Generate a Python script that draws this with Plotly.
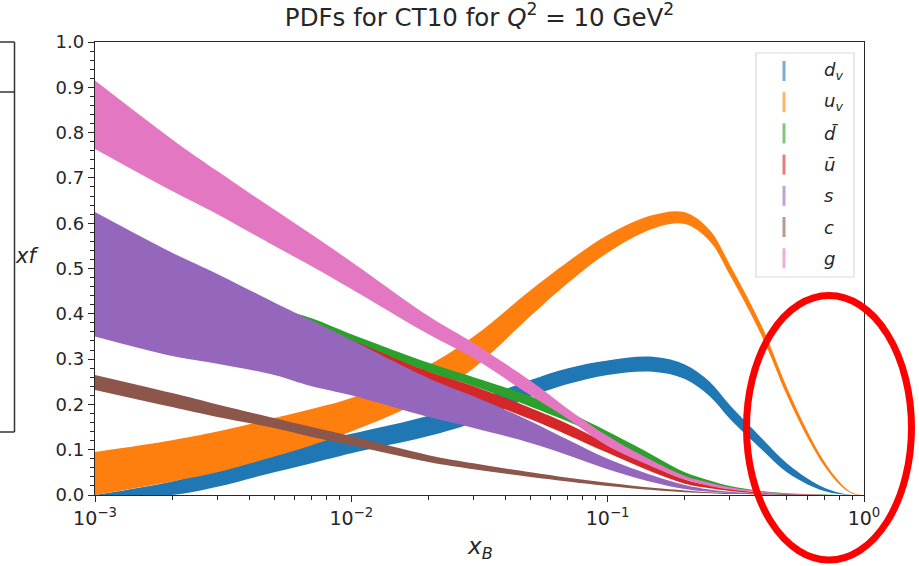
import plotly.graph_objects as go

# Momentum fraction grid (log-spaced sampling points)
x_b = [0.001, 0.002, 0.003, 0.005, 0.007, 0.01, 0.02, 0.03, 0.05, 0.07, 0.1,
       0.15, 0.2, 0.25, 0.3, 0.4, 0.5, 0.6, 0.7, 0.8, 0.9, 1.0]

# Uncertainty bands (lower / upper edge) of x*f for each parton
dv_lo = [0.0, 0.0, 0.018, 0.05, 0.07, 0.092, 0.13, 0.16, 0.217, 0.245, 0.265,
         0.272, 0.256, 0.218, 0.168, 0.1, 0.05, 0.024, 0.009, 0.002, 0.0, 0.0]
dv_hi = [0.0, 0.03, 0.055, 0.09, 0.115, 0.135, 0.175, 0.207, 0.254, 0.28, 0.297,
         0.305, 0.288, 0.25, 0.198, 0.125, 0.07, 0.037, 0.016, 0.005, 0.0, 0.0]

uv_lo = [0.0, 0.03, 0.05, 0.085, 0.11, 0.14, 0.215, 0.28, 0.395, 0.468, 0.535,
         0.588, 0.598, 0.56, 0.485, 0.35, 0.22, 0.128, 0.064, 0.024, 0.003, 0.0]
uv_hi = [0.095, 0.121, 0.14, 0.17, 0.19, 0.214, 0.287, 0.35, 0.452, 0.515, 0.574,
         0.618, 0.624, 0.585, 0.508, 0.372, 0.238, 0.142, 0.074, 0.03, 0.005, 0.0]

dbar_lo = [0.50, 0.44, 0.41, 0.38, 0.355, 0.335, 0.272, 0.24, 0.195, 0.162, 0.122,
           0.073, 0.04, 0.024, 0.015, 0.006, 0.002, 0.001, 0.0, 0.0, 0.0, 0.0]
dbar_hi = [0.56, 0.49, 0.455, 0.415, 0.39, 0.355, 0.292, 0.26, 0.218, 0.183, 0.14,
           0.088, 0.05, 0.032, 0.02, 0.009, 0.004, 0.002, 0.001, 0.0, 0.0, 0.0]

ubar_lo = [0.47, 0.42, 0.39, 0.36, 0.335, 0.315, 0.25, 0.215, 0.167, 0.132, 0.093,
           0.05, 0.025, 0.015, 0.009, 0.003, 0.001, 0.0, 0.0, 0.0, 0.0, 0.0]
ubar_hi = [0.53, 0.47, 0.44, 0.40, 0.375, 0.342, 0.272, 0.24, 0.192, 0.157, 0.113,
           0.064, 0.034, 0.021, 0.013, 0.005, 0.002, 0.001, 0.0, 0.0, 0.0, 0.0]

s_lo = [0.35, 0.307, 0.29, 0.265, 0.24, 0.22, 0.172, 0.148, 0.115, 0.088, 0.057,
        0.028, 0.013, 0.007, 0.004, 0.001, 0.0, 0.0, 0.0, 0.0, 0.0, 0.0]
s_hi = [0.625, 0.535, 0.488, 0.425, 0.385, 0.342, 0.258, 0.218, 0.163, 0.122, 0.08,
        0.043, 0.022, 0.012, 0.007, 0.003, 0.001, 0.0, 0.0, 0.0, 0.0, 0.0]

c_lo = [0.232, 0.194, 0.172, 0.148, 0.128, 0.11, 0.073, 0.057, 0.04, 0.03, 0.02,
        0.011, 0.006, 0.004, 0.002, 0.001, 0.0, 0.0, 0.0, 0.0, 0.0, 0.0]
c_hi = [0.265, 0.225, 0.2, 0.17, 0.15, 0.13, 0.088, 0.07, 0.05, 0.038, 0.027,
        0.016, 0.01, 0.006, 0.004, 0.002, 0.001, 0.0, 0.0, 0.0, 0.0, 0.0]

g_lo = [0.764, 0.671, 0.62, 0.55, 0.505, 0.455, 0.355, 0.302, 0.22, 0.168, 0.108,
        0.062, 0.034, 0.02, 0.012, 0.005, 0.002, 0.0, 0.0, 0.0, 0.0, 0.0]
g_hi = [0.915, 0.785, 0.715, 0.63, 0.575, 0.515, 0.395, 0.335, 0.252, 0.19, 0.13,
        0.075, 0.042, 0.027, 0.017, 0.008, 0.003, 0.001, 0.0, 0.0, 0.0, 0.0]

labels = ["<i>d</i><sub><i>v</i></sub>", "<i>u</i><sub><i>v</i></sub>",
          "<i>d\u0304</i>", "<i>u\u0304</i>", "<i>s</i>", "<i>c</i>", "<i>g</i>"]
colors = ["#1f77b4", "#ff7f0e", "#2ca02c", "#d62728", "#9467bd", "#8c564b", "#e377c2"]
bands = [(dv_lo, dv_hi), (uv_lo, uv_hi), (dbar_lo, dbar_hi), (ubar_lo, ubar_hi),
         (s_lo, s_hi), (c_lo, c_hi), (g_lo, g_hi)]

xdec_vals = [1e-3, 1e-2, 1e-1, 1.0]
xdec_text = ["10<sup>\u22123</sup>", "10<sup>\u22122</sup>", "10<sup>\u22121</sup>", "10<sup>0</sup>"]
x_minor = [m * 10.0 ** e for e in (-3, -2, -1) for m in range(2, 10)]

FONT = "DejaVu Sans"
INK = "#262626"

fig = go.Figure()
for (lo, hi), col in zip(bands, colors):
    fig.add_trace(go.Scatter(x=x_b, y=lo, mode="lines", line=dict(width=0, shape="spline", smoothing=1.0),
                             showlegend=False, hoverinfo="skip"))
    fig.add_trace(go.Scatter(x=x_b, y=hi, mode="lines", line=dict(width=0, shape="spline", smoothing=1.0),
                             fill="tonexty", fillcolor=col, showlegend=False, hoverinfo="skip"))

# plot-area geometry in pixels
W, H = 919, 566
L, R, T, B = 95, 864, 42, 495


def px(xp):
    return (xp - L) / (R - L)


def py(yp):
    return (B - yp) / (B - T)


shapes = []
annotations = []

# legend frame
shapes.append(dict(type="rect", xref="paper", yref="paper",
                   x0=px(756), x1=px(854), y0=py(277), y1=py(53),
                   line=dict(color="#d9d9d9", width=1.2), fillcolor="rgba(255,255,255,0.8)", layer="above"))
row0, step = 71, 31.2
for i, (lab, col) in enumerate(zip(labels, colors)):
    yc = row0 + i * step
    shapes.append(dict(type="line", xref="paper", yref="paper",
                       x0=px(784), x1=px(784), y0=py(yc - 10), y1=py(yc + 10),
                       line=dict(color=col, width=3), opacity=0.6, layer="above"))
    annotations.append(dict(xref="paper", yref="paper", x=px(822), y=py(yc), text=lab,
                            showarrow=False, xanchor="left", yanchor="middle",
                            font=dict(family=FONT, size=18, color=INK)))

# partial frame at the left margin
shapes.append(dict(type="line", xref="paper", yref="paper", x0=px(14.5), x1=px(14.5),
                   y0=py(42), y1=py(432), line=dict(color="#333", width=1.5)))
for yy in (42, 92, 432):
    shapes.append(dict(type="line", xref="paper", yref="paper", x0=px(-2), x1=px(14.5),
                       y0=py(yy), y1=py(yy), line=dict(color="#333", width=1.5)))

# red ellipse marking the large-x region
shapes.append(dict(type="circle", xref="paper", yref="paper",
                   x0=px(746.5), x1=px(911.5), y0=py(560), y1=py(295.5),
                   line=dict(color="#ff0000", width=7), layer="above"))

# axis labels
annotations.append(dict(xref="paper", yref="paper", x=px(480), y=py(548),
                        text="<i>x</i><sub><i>B</i></sub>", showarrow=False,
                        xanchor="center", yanchor="middle", font=dict(family=FONT, size=23, color=INK)))
annotations.append(dict(xref="paper", yref="paper", x=px(27), y=py(256),
                        text="<i>xf</i>", showarrow=False,
                        xanchor="center", yanchor="middle", font=dict(family=FONT, size=21, color=INK)))

fig.update_layout(
    width=W, height=H,
    margin=dict(l=L, r=W - R, t=T, b=H - B),
    paper_bgcolor="white", plot_bgcolor="white",
    font=dict(family=FONT, color=INK),
    title=dict(text="PDFs for CT10 for <i>Q</i><sup>2</sup> = 10 GeV<sup>2</sup>",
               x=px(479.5), xref="paper", xanchor="center",
               y=1 - 17 / H, yref="container", yanchor="middle",
               font=dict(family=FONT, size=24.5, color=INK)),
    shapes=shapes, annotations=annotations,
    xaxis=dict(type="log", range=[-3, 0], tickmode="array", tickvals=xdec_vals, ticktext=xdec_text,
               ticks="outside", ticklen=6, tickwidth=1.4, tickcolor=INK,
               showline=True, mirror=True, linecolor=INK, linewidth=1.4,
               showgrid=False, zeroline=False, tickfont=dict(family=FONT, size=19, color=INK),
               minor=dict(tickmode="array", tickvals=x_minor, ticks="outside", ticklen=3.5,
                          tickwidth=1, tickcolor=INK, showgrid=False)),
    yaxis=dict(range=[0, 1], tickmode="linear", tick0=0, dtick=0.1, tickformat=".1f",
               ticks="outside", ticklen=6, tickwidth=1.4, tickcolor=INK,
               showline=True, mirror=True, linecolor=INK, linewidth=1.4,
               showgrid=False, zeroline=False, tickfont=dict(family=FONT, size=18, color=INK),
               minor=dict(dtick=0.02, ticks="outside", ticklen=3.5, tickwidth=1,
                          tickcolor=INK, showgrid=False)),
)

fig.write_html("out.html")
